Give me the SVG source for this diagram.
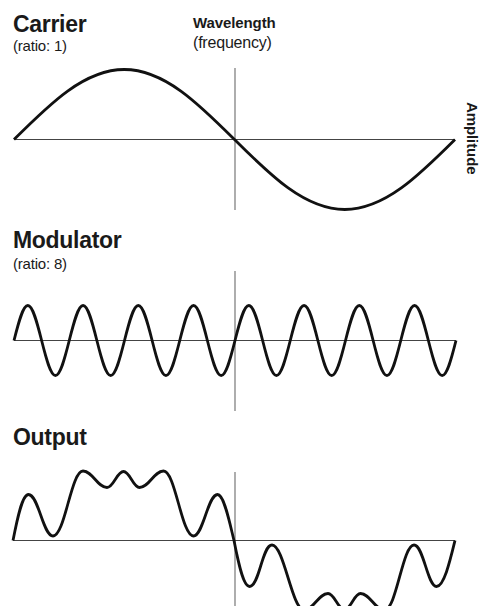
<svg xmlns="http://www.w3.org/2000/svg" width="481" height="606" viewBox="0 0 481 606">
<style>
.title{font-family:"Liberation Sans",Arial,sans-serif;font-weight:bold;font-size:23px;fill:#1a1a1a;letter-spacing:-0.3px}
.sub{font-family:"Liberation Sans",Arial,sans-serif;font-size:15px;fill:#1a1a1a;letter-spacing:-0.2px}
.lbl{font-family:"Liberation Sans",Arial,sans-serif;font-weight:bold;font-size:15px;fill:#1a1a1a;letter-spacing:-0.1px}
.axis{stroke:#444;stroke-width:1.2;fill:none}
.vline{stroke:#777;stroke-width:1.2;fill:none}
.wave{stroke:#111;stroke-width:2.8;fill:none;stroke-linejoin:round}
</style>
<rect width="481" height="606" fill="#fff"/>
<g id="labels">
<text class="lbl" x="193" y="28">Wavelength</text>
<text class="sub" x="193" y="48" style="font-size:16px">(frequency)</text>
<text class="lbl" transform="translate(467,102) rotate(90)">Amplitude</text>
</g>
<g id="carrier">
<text class="title" x="13" y="32">Carrier</text>
<text class="sub" x="13" y="51">(ratio: 1)</text>
<line class="vline" x1="235" y1="68" x2="235" y2="210"/>
<line class="axis" x1="14" y1="139.5" x2="455" y2="139.5"/>
<path class="wave" d="M14,139.5 c35.95,-35.86 70.35,-70 110.25,-70 c39.9,0 74.3,34.14 110.25,70 c35.95,35.86 70.35,70 110.25,70 c39.9,0 74.3,-34.14 110.25,-70"/>
</g>
<g id="modulator">
<text class="title" x="13" y="248">Modulator</text>
<text class="sub" x="13" y="269">(ratio: 8)</text>
<line class="vline" x1="235" y1="271" x2="235" y2="411"/>
<line class="axis" x1="14" y1="340.5" x2="456" y2="340.5"/>
<path class="wave" d="M14,340.5
c4.504,-17.93 8.814,-35 13.8125,-35 c4.9985,0 9.3085,17.07 13.8125,35 c4.504,17.93 8.814,35 13.8125,35 c4.9985,0 9.3085,-17.07 13.8125,-35
c4.504,-17.93 8.814,-35 13.8125,-35 c4.9985,0 9.3085,17.07 13.8125,35 c4.504,17.93 8.814,35 13.8125,35 c4.9985,0 9.3085,-17.07 13.8125,-35
c4.504,-17.93 8.814,-35 13.8125,-35 c4.9985,0 9.3085,17.07 13.8125,35 c4.504,17.93 8.814,35 13.8125,35 c4.9985,0 9.3085,-17.07 13.8125,-35
c4.504,-17.93 8.814,-35 13.8125,-35 c4.9985,0 9.3085,17.07 13.8125,35 c4.504,17.93 8.814,35 13.8125,35 c4.9985,0 9.3085,-17.07 13.8125,-35
c4.504,-17.93 8.814,-35 13.8125,-35 c4.9985,0 9.3085,17.07 13.8125,35 c4.504,17.93 8.814,35 13.8125,35 c4.9985,0 9.3085,-17.07 13.8125,-35
c4.504,-17.93 8.814,-35 13.8125,-35 c4.9985,0 9.3085,17.07 13.8125,35 c4.504,17.93 8.814,35 13.8125,35 c4.9985,0 9.3085,-17.07 13.8125,-35
c4.504,-17.93 8.814,-35 13.8125,-35 c4.9985,0 9.3085,17.07 13.8125,35 c4.504,17.93 8.814,35 13.8125,35 c4.9985,0 9.3085,-17.07 13.8125,-35
c4.504,-17.93 8.814,-35 13.8125,-35 c4.9985,0 9.3085,17.07 13.8125,35 c4.504,17.93 8.814,35 13.8125,35 c4.9985,0 9.3085,-17.07 13.8125,-35"/>
</g>
<g id="output">
<text class="title" x="13" y="445">Output</text>
<line class="vline" x1="235" y1="472" x2="235" y2="606"/>
<line class="axis" x1="13" y1="540.5" x2="455" y2="540.5"/>
<path class="wave" d="M13,540.5
C17,520 22,494.5 28.5,494.5
C38.5,494.5 43,536 53,536
C65,536 71,471 83,471
C92.6,471 97.4,487.5 107,487.5
C113.6,487.5 116.9,471.5 123.5,471.5
C129.9,471.5 133.1,487.5 139.5,487.5
C149.1,487.5 153.9,471 163.5,471
C175.5,471 181.5,536 193.5,536
C203.1,536 207.9,494.5 217.5,494.5
C224,494.5 229,520 234,540.5
C238,561 243,586.5 249.5,586.5
C259.5,586.5 262,545 272,545
C284,545 292,610 304,610
C313.6,610 318.4,593.5 328,593.5
C334.6,593.5 337.9,609.5 344.5,609.5
C350.9,609.5 354.1,593.5 360.5,593.5
C370.1,593.5 374.9,610 384.5,610
C396.5,610 402.5,545 414,545
C423.6,545 427.4,586.5 436.5,586.5
C444,586.5 450,561 455,540.5"/>
</g>
</svg>
